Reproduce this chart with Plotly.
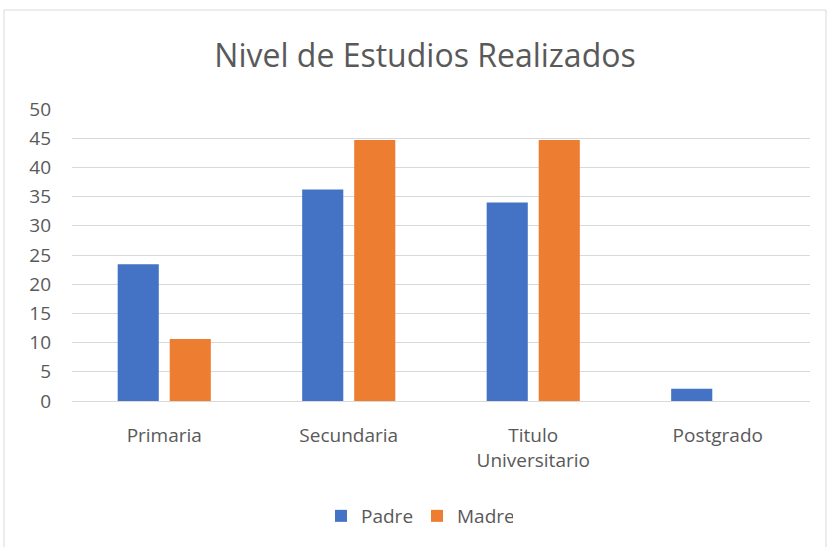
import plotly.graph_objects as go

categories = ["Primaria", "Secundaria", "Titulo<br>Universitario", "Postgrado"]
padre = [23.4, 36.2, 34.0, 2.1]
madre = [10.6, 44.7, 44.7, 0.0]
y_ticks = [0, 5, 10, 15, 20, 25, 30, 35, 40, 45, 50]

W, H = 830, 547
L, R, T, B = 72, 20, 109, 146
pw = W - L - R
ph = H - T - B

fig = go.Figure()
fig.add_trace(go.Bar(name="Padre", x=categories, y=padre, marker=dict(color="#4472C4", line=dict(width=0))))
fig.add_trace(go.Bar(name="Madre", x=categories, y=madre, marker=dict(color="#ED7D31", line=dict(width=0))))

font_family = "Open Sans, Liberation Sans, sans-serif"
fig.update_layout(
    width=W, height=H,
    margin=dict(l=L, r=R, t=T, b=B),
    paper_bgcolor="white", plot_bgcolor="white",
    barmode="group", bargap=0.436, bargroupgap=0.21,
    title=dict(text="Nivel de Estudios Realizados", x=425 / W, xanchor="center", y=1 - 56 / H, yanchor="middle",
               font=dict(family=font_family, size=32, color="#595959")),
    font=dict(family=font_family, size=19, color="#595959"),
    showlegend=True,
    legend=dict(orientation="h", x=(321 - L) / pw, xanchor="left", y=(401 - 516) / ph, yanchor="middle",
                font=dict(size=19, color="#595959"), entrywidth=51, entrywidthmode="pixels",
                traceorder="normal"),
    xaxis=dict(showgrid=False, showline=True, linecolor="#d9d9d9", linewidth=1, ticks="",
               tickfont=dict(size=19, color="#595959"), ticklabelstandoff=17),
    yaxis=dict(range=[0, 50], tickvals=y_ticks, showgrid=True, gridcolor="#d9d9d9", gridwidth=1,
               zeroline=False, showline=False, ticks="", tickfont=dict(size=19, color="#595959"),
               ticklabelstandoff=20),
)

fig.add_shape(type="rect", xref="paper", yref="paper",
              x0=(4 - L) / pw, x1=(826 - L) / pw, y0=(T + ph - 549) / ph, y1=(T + ph - 10) / ph,
              line=dict(color="#d9d9d9", width=1), fillcolor="rgba(0,0,0,0)", layer="below")

fig.write_html("out.html", post_script="document.body.style.margin='0';",
               config={"displayModeBar": False})
